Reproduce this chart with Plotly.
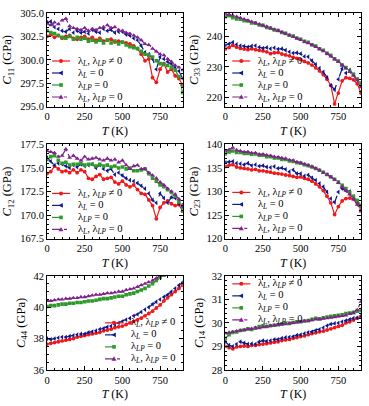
import plotly.graph_objects as go

# ---------------- data ----------------
T = [0, 25, 50, 75, 100, 125, 150, 175, 200, 225, 250, 275, 300, 325, 350, 375, 400, 425, 450,
     475, 500, 525, 550, 575, 600, 625, 650, 675, 700, 725, 750, 775, 800, 825, 850, 875, 900]

SERIES = ["λ<sub><i>L</i></sub>, λ<sub><i>LP</i></sub> ≠ 0",
          "λ<sub><i>L</i></sub> = 0",
          "λ<sub><i>LP</i></sub> = 0",
          "λ<sub><i>L</i></sub>, λ<sub><i>LP</i></sub> = 0"]

C11_full = [302.5, 302.7, 302.4, 302.6, 302.3, 302.5, 302.6, 302.3, 302.2, 302.4,
            302.5, 302.2, 302.4, 302.1, 302.3, 302.0, 302.1, 302.2, 301.9, 302.0,
            301.9, 301.8, 301.7, 301.5, 301.2, 300.6, 299.9, 300.1, 298.1, 297.6,
            299.0, 299.6, 298.7, 299.0, 298.3, 298.0, 297.3]
C11_noL = [304.0, 304.1, 303.5, 303.3, 303.1, 303.0, 303.3, 302.9, 303.1, 302.9,
           303.0, 302.8, 303.2, 303.0, 302.9, 303.3, 303.1, 303.2, 302.9, 303.0,
           303.0, 302.7, 302.6, 302.3, 302.1, 301.5, 300.8, 300.6, 300.1, 299.0,
           300.3, 300.1, 299.8, 299.6, 299.2, 298.8, 298.0]
C11_noLP = [303.1, 302.9, 302.8, 302.6, 302.4, 302.3, 302.5, 302.2, 302.4, 302.2,
            302.3, 302.0, 302.1, 301.9, 302.1, 301.8, 302.1, 301.8, 302.0, 301.7,
            301.9, 301.6, 301.4, 301.3, 301.2, 300.9, 300.6, 300.5, 300.3, 299.9,
            299.6, 299.5, 299.4, 299.2, 298.9, 298.2, 296.5]
C11_none = [303.9, 303.7, 304.0, 303.8, 304.2, 304.4, 303.6, 303.4, 303.3, 303.2,
            303.4, 303.1, 303.3, 303.2, 303.4, 303.5, 303.7, 303.4, 303.5, 303.2,
            303.1, 302.9, 302.8, 302.6, 302.4, 302.1, 301.7, 301.6, 301.2, 300.9,
            300.6, 300.5, 300.1, 299.8, 299.4, 299.2, 298.9]

C33_full = [235.8, 236.3, 237.0, 236.4, 236.0, 235.8, 235.6, 235.9, 235.6, 235.4,
            235.2, 234.9, 234.3, 234.6, 234.7, 234.2, 233.9, 233.6, 233.1, 232.8,
            232.4, 231.8, 231.3, 230.6, 229.7, 228.7, 227.5, 226.0, 224.0, 218.0,
            221.5, 225.5, 226.5, 226.3, 225.8, 224.5, 221.5]
C33_noL = [237.0, 237.5, 238.0, 237.3, 236.9, 236.7, 236.5, 236.8, 236.9, 236.4,
           236.1, 236.3, 235.9, 236.2, 235.8, 235.9, 235.4, 234.9, 234.5, 234.6,
           234.3, 233.4, 233.3, 232.0, 230.8, 229.6, 228.4, 226.6, 224.0, 222.6,
           226.0, 229.4, 228.0, 229.0, 227.5, 226.0, 223.5]
C33_noLP = [246.3, 246.6, 246.0, 245.6, 245.5, 245.0, 244.9, 244.3, 244.2, 243.6,
            243.5, 242.8, 242.6, 242.0, 241.8, 241.2, 240.9, 240.3, 240.0, 239.3,
            239.0, 238.3, 238.0, 237.2, 236.8, 235.9, 235.4, 234.4, 233.8, 232.6,
            231.9, 230.6, 229.8, 228.6, 227.6, 226.0, 224.8]
C33_none = [247.2, 247.0, 246.7, 246.3, 245.9, 245.5, 245.1, 244.7, 244.3, 243.9,
            243.5, 243.1, 242.6, 242.2, 241.8, 241.3, 240.8, 240.3, 239.8, 239.3,
            238.8, 238.2, 237.7, 237.1, 236.5, 235.8, 235.1, 234.3, 233.4, 232.5,
            231.6, 230.6, 229.5, 228.4, 227.2, 225.6, 223.5]

C12_full = [174.4, 174.6, 175.2, 174.9, 174.6, 174.7, 174.5, 174.8, 174.5, 174.8,
            174.6, 173.9, 173.8, 174.1, 174.3, 173.8, 173.9, 174.0, 173.5, 173.3,
            173.6, 173.2, 173.0, 173.2, 172.7, 172.3, 172.2, 171.6, 171.0, 169.6,
            170.8, 171.3, 171.5, 171.2, 171.0, 171.1, 170.4]
C12_noL = [176.1, 175.7, 175.3, 175.5, 175.4, 175.2, 175.0, 175.3, 175.1, 175.4,
           175.2, 175.3, 175.4, 175.0, 175.3, 174.9, 174.7, 174.9, 174.3, 174.5,
           174.2, 173.9, 173.7, 173.6, 173.4, 173.1, 172.8, 172.3, 171.6, 171.3,
           172.3, 171.8, 171.3, 171.9, 171.8, 171.2, 170.8]
C12_noLP = [175.9, 176.2, 176.3, 175.8, 175.5, 175.6, 175.3, 175.4, 175.4, 175.5,
            175.3, 175.4, 175.4, 175.2, 175.4, 175.2, 175.3, 175.1, 175.2, 175.0,
            175.1, 174.9, 175.0, 174.7, 174.7, 174.8, 174.9, 174.4, 173.9, 173.6,
            173.2, 173.0, 172.7, 172.4, 172.0, 171.4, 170.4]
C12_none = [176.8, 176.7, 176.6, 176.2, 176.3, 177.0, 176.1, 176.3, 176.0, 175.8,
            176.2, 175.9, 176.0, 176.1, 175.9, 175.8, 176.0, 175.8, 175.9, 175.6,
            175.8, 175.3, 174.9, 175.2, 175.3, 174.9, 174.9, 174.5, 174.2, 173.9,
            173.5, 173.2, 172.8, 172.5, 172.2, 171.7, 171.1]

C23_full = [135.3, 135.6, 135.7, 135.2, 135.0, 134.9, 134.8, 134.6, 134.7, 134.4,
            134.4, 134.2, 134.1, 133.9, 133.8, 133.7, 133.5, 133.4, 133.2, 133.0,
            133.1, 132.8, 132.6, 132.2, 131.6, 131.0, 130.2, 129.0, 127.6, 125.1,
            126.8, 128.0, 128.5, 128.6, 128.4, 127.6, 126.0]
C23_noL = [136.2, 136.3, 136.4, 136.0, 135.9, 135.7, 136.0, 135.5, 135.7, 135.4,
           135.5, 135.2, 135.1, 135.3, 134.9, 135.0, 134.7, 134.2, 134.6, 133.8,
           133.8, 133.3, 133.5, 132.9, 132.4, 131.7, 131.0, 129.9, 128.5, 127.7,
           129.9, 130.6, 130.2, 130.0, 128.9, 128.0, 126.8]
C23_noLP = [138.0, 138.4, 138.6, 138.3, 138.3, 138.1, 138.1, 137.9, 138.0, 137.7,
            137.7, 137.4, 137.4, 137.1, 137.1, 136.8, 136.8, 136.5, 136.4, 136.1,
            136.0, 135.7, 135.5, 135.2, 134.9, 134.5, 134.1, 133.6, 133.1, 132.6,
            132.0, 131.3, 130.6, 129.8, 129.0, 128.1, 127.0]
C23_none = [138.6, 138.9, 139.3, 138.8, 138.6, 138.4, 138.4, 138.2, 138.2, 137.9,
            137.9, 137.7, 137.6, 137.4, 137.3, 137.1, 137.0, 136.7, 136.6, 136.3,
            136.1, 135.8, 135.6, 135.3, 134.9, 134.5, 134.0, 133.6, 133.1, 132.5,
            131.8, 131.0, 130.2, 129.4, 128.4, 127.2, 125.8]

C44_full = [37.65, 37.7, 37.75, 37.8, 37.85, 37.9, 37.95, 38.0, 38.1, 38.15,
            38.2, 38.25, 38.3, 38.35, 38.4, 38.5, 38.55, 38.6, 38.7, 38.75,
            38.8, 38.9, 39.0, 39.1, 39.2, 39.3, 39.45, 39.6, 39.75, 39.95,
            40.15, 40.4, 40.6, 40.8, 41.0, 41.2, 41.4]
C44_noL = [38.0, 37.95, 38.0, 38.05, 38.1, 38.1, 38.15, 38.2, 38.25, 38.3,
           38.3, 38.4, 38.45, 38.5, 38.6, 38.65, 38.75, 38.8, 38.9, 39.0,
           39.1, 39.2, 39.3, 39.45, 39.55, 39.7, 39.85, 40.0, 40.2, 40.35,
           40.5, 40.65, 40.8, 41.0, 41.2, 41.4, 41.6]
C44_noLP = [40.05, 40.1, 40.1, 40.15, 40.2, 40.2, 40.25, 40.25, 40.3, 40.3,
            40.35, 40.4, 40.4, 40.45, 40.5, 40.55, 40.55, 40.6, 40.65, 40.7,
            40.7, 40.8, 40.85, 40.9, 41.0, 41.1, 41.2, 41.35, 41.5, 41.7,
            41.9, 42.05, 42.2, 42.35, 42.5, 42.65, 42.8]
C44_none = [40.4, 40.4, 40.45, 40.5, 40.5, 40.55, 40.55, 40.6, 40.6, 40.65,
            40.65, 40.7, 40.75, 40.8, 40.8, 40.85, 40.9, 40.9, 40.95, 41.0,
            41.0, 41.1, 41.15, 41.2, 41.3, 41.4, 41.5, 41.6, 41.7, 41.85,
            42.0, 42.15, 42.3, 42.45, 42.6, 42.75, 42.9]

C14_full = [29.0, 28.95, 28.9, 28.98, 29.0, 29.02, 29.0, 29.05, 29.05, 29.08,
            29.1, 29.12, 29.15, 29.18, 29.2, 29.25, 29.28, 29.3, 29.35, 29.38,
            29.42, 29.45, 29.5, 29.55, 29.58, 29.62, 29.65, 29.7, 29.75, 29.8,
            29.85, 29.9, 30.0, 30.05, 30.12, 30.2, 30.25]
C14_noL = [29.2, 29.05, 29.0, 29.1, 29.2, 29.15, 29.1, 29.12, 29.1, 29.2,
           29.25, 29.22, 29.25, 29.3, 29.3, 29.35, 29.38, 29.4, 29.42, 29.48,
           29.5, 29.55, 29.6, 29.62, 29.68, 29.72, 29.8, 29.88, 29.95, 29.98,
           30.0, 30.05, 30.1, 30.15, 30.2, 30.22, 30.3]
C14_noLP = [29.35, 29.5, 29.6, 29.62, 29.68, 29.7, 29.75, 29.72, 29.78, 29.85,
            29.88, 29.85, 29.88, 29.9, 29.92, 29.95, 30.0, 29.98, 30.02, 30.05,
            30.05, 30.08, 30.1, 30.15, 30.2, 30.18, 30.22, 30.25, 30.28, 30.3,
            30.32, 30.35, 30.4, 30.42, 30.45, 30.5, 30.52]
C14_none = [29.55, 29.6, 29.62, 29.65, 29.68, 29.7, 29.72, 29.75, 29.8, 29.78,
            29.82, 29.85, 29.88, 29.9, 29.92, 29.95, 29.95, 29.98, 30.0, 30.02,
            30.05, 30.08, 30.1, 30.12, 30.15, 30.15, 30.18, 30.2, 30.22, 30.25,
            30.28, 30.3, 30.32, 30.38, 30.42, 30.55, 30.9]

X_TICKS = [0, 250, 500, 750]

# ---------------- styling ----------------
FONT = "Liberation Serif"
COLORS = ["#f01818", "#0c1a8c", "#2e9a2a", "#82208e"]
DASHES = ["solid", "dash", "dash", "dashdot"]
SYMBOLS = ["circle", "triangle-left", "square", "triangle-up"]
MSIZES = [3.8, 4.2, 3.6, 4.4]

XD_L = [0.0, 0.4322]
XD_R = [0.5678, 1.0]
YD_1 = [0.7376, 1.0]
YD_2 = [0.3681, 0.6319]
YD_3 = [0.0, 0.2637]

# panel: (label, series, yrange, dtick, minor, fmt, legend offset px, xdomain, ydomain)
PANELS = [
    ("11", [C11_full, C11_noL, C11_noLP, C11_none], [295, 305], 2.5, 0.5, ".1f", (5, 48), XD_L, YD_1),
    ("33", [C33_full, C33_noL, C33_noLP, C33_none], [217.1, 247.5], 10, 2, "", (7, 48), XD_R, YD_1),
    ("12", [C12_full, C12_noL, C12_noLP, C12_none], [167.5, 177.5], 2.5, 0.5, ".1f", (5, 49), XD_L, YD_2),
    ("23", [C23_full, C23_noL, C23_noLP, C23_none], [120, 140], 5, 1, "", (7, 48), XD_R, YD_2),
    ("44", [C44_full, C44_noL, C44_noLP, C44_none], [36, 42], 2, 0.5, "", (58, 47), XD_L, YD_3),
    ("14", [C14_full, C14_noL, C14_noLP, C14_none], [28, 32], 1, 0.2, "", (7, 8), XD_R, YD_3),
]

fig = go.Figure()
shapes = []
annotations = []

axis_common = dict(
    showline=True, linecolor="black", linewidth=1, mirror="allticks",
    ticks="inside", ticklen=4, tickwidth=1, tickcolor="black",
    showgrid=False, zeroline=False,
    tickfont=dict(family=FONT, size=10.5, color="black"),
)

for i, (lab, series, yr, dt, mn, fmt, (lx, ly), xd, yd) in enumerate(PANELS, start=1):
    xa = "x" if i == 1 else f"x{i}"
    ya = "y" if i == 1 else f"y{i}"
    for k, vals in enumerate(series):
        fig.add_trace(go.Scatter(
            x=T, y=vals, xaxis=xa, yaxis=ya, mode="lines+markers",
            name=SERIES[k], showlegend=False, cliponaxis=True,
            line=dict(color=COLORS[k], width=1.2, dash=DASHES[k]),
            marker=dict(symbol=SYMBOLS[k], size=MSIZES[k], color=COLORS[k], line=dict(width=0)),
        ))
    xkey = "xaxis" if i == 1 else f"xaxis{i}"
    ykey = "yaxis" if i == 1 else f"yaxis{i}"
    fig.update_layout(**{
        xkey: dict(axis_common, domain=xd, anchor=ya, range=[0, 900],
                   tickvals=X_TICKS,
                   minor=dict(dtick=50, tick0=0, ticks="inside", ticklen=2, tickcolor="black", showgrid=False),
                   title=dict(text="<i>T</i> (K)", font=dict(family=FONT, size=12, color="black"), standoff=5)),
        ykey: dict(axis_common, domain=yd, anchor=xa, range=yr, dtick=dt, tick0=0, tickformat=fmt,
                   minor=dict(dtick=mn, tick0=0, ticks="inside", ticklen=2, tickcolor="black", showgrid=False),
                   title=dict(text=f"<i>C</i><sub>{lab}</sub> (GPa)", font=dict(family=FONT, size=12.5, color="black"), standoff=5)),
    })
    xref = f"{xa} domain"
    yref = f"{ya} domain"
    for k in range(4):
        yoff = -(ly + 12 * k)
        shapes.append(dict(type="line", xref=xref, yref=yref, xsizemode="pixel", ysizemode="pixel",
                           xanchor=0, yanchor=1, x0=lx, x1=lx + 18, y0=yoff, y1=yoff,
                           line=dict(color=COLORS[k], width=1.2, dash=DASHES[k]), layer="above"))
        cx = lx + 9
        if SYMBOLS[k] == "circle":
            shp = dict(type="circle", x0=cx - 2, x1=cx + 2, y0=yoff - 2, y1=yoff + 2)
        elif SYMBOLS[k] == "square":
            shp = dict(type="rect", x0=cx - 1.8, x1=cx + 1.8, y0=yoff - 1.8, y1=yoff + 1.8)
        elif SYMBOLS[k] == "triangle-up":
            shp = dict(type="path", path=f"M{cx-2.5},{yoff-1.8} L{cx+2.5},{yoff-1.8} L{cx},{yoff+2.5} Z")
        else:
            shp = dict(type="path", path=f"M{cx+1.8},{yoff-2.4} L{cx+1.8},{yoff+2.4} L{cx-2.4},{yoff} Z")
        shp.update(xref=xref, yref=yref, xsizemode="pixel", ysizemode="pixel", xanchor=0, yanchor=1,
                   fillcolor=COLORS[k], line=dict(width=0), layer="above")
        shapes.append(shp)
        annotations.append(dict(text=SERIES[k], xref=xref, yref=yref, x=0, y=1,
                                xshift=lx + 24, yshift=yoff, xanchor="left", yanchor="middle",
                                showarrow=False, font=dict(family=FONT, size=10.5, color="black")))

fig.update_layout(
    width=369, height=406,
    margin=dict(l=45, r=7, t=13, b=29),
    paper_bgcolor="white", plot_bgcolor="white",
    showlegend=False,
    shapes=shapes, annotations=annotations,
    font=dict(family=FONT, color="black"),
)

fig.write_html("out.html")
